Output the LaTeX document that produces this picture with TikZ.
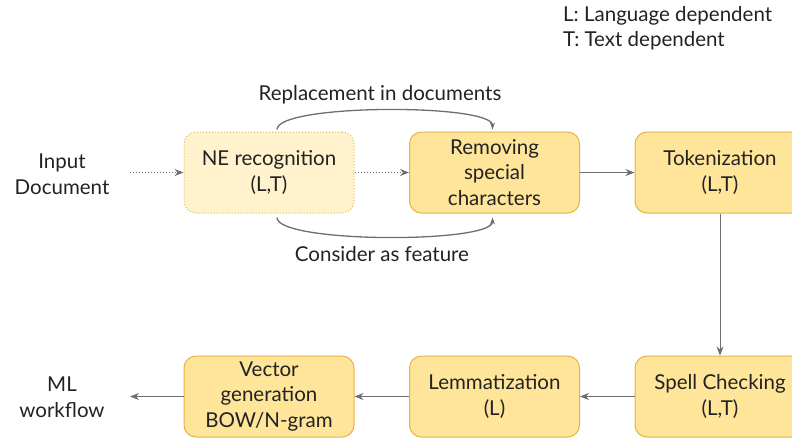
\documentclass[tikz,border=0pt]{standalone}
\usepackage{fontspec}
\setmainfont{Lato}
\usepackage{xcolor}
\usetikzlibrary{arrows.meta,positioning}
\definecolor{boxfill}{HTML}{FFE599}
\definecolor{boxline}{HTML}{E8B04E}
\definecolor{nefill}{HTML}{FFF2CC}
\definecolor{arrowgray}{HTML}{6E6E6E}
\definecolor{textgray}{HTML}{222222}
\tikzset{
  stepbox/.style={draw=boxline, fill=boxfill, rounded corners=12pt, line width=1pt,
    minimum width=170pt, minimum height=81pt, align=center, text=textgray, inner sep=0pt},
  nebox/.style={stepbox, fill=nefill, dotted},
  flow/.style={draw=arrowgray, line width=1pt, -{Stealth[length=9pt,width=7pt]}},
  loop/.style={draw=arrowgray, line width=1.3pt, -{Stealth[length=7pt,width=5pt]}},
  lbl/.style={align=center, text=textgray, inner sep=0pt}
}
\begin{document}
\begin{tikzpicture}[x=1pt, y=-1pt, font=\fontsize{20.5}{25.5}\selectfont]
  \useasboundingbox (0,0) rectangle (792,437);
  \clip (0,0) rectangle (792,437);
  % legend
  \node[lbl, align=left, anchor=west] (legend) at (563,28) {L: Language dependent\\T: Text dependent};
  % first row
  \node[lbl] (input) at (62,174) {Input\\Document};
  \node[nebox] (ne) at (269,172.5) {NE recognition\\(L,T)};
  \node[stepbox] (rm) at (494.5,172.5) {Removing\\special\\characters};
  \node[stepbox] (tok) at (720,172.5) {Tokenization\\(L,T)};
  % second row
  \node[stepbox] (spell) at (720,396.5) {Spell Checking\\(L,T)};
  \node[stepbox] (lem) at (494.5,396.5) {Lemmatization\\(L)};
  \node[stepbox] (vec) at (269,396.5) {Vector\\generation\\BOW/N-gram};
  \node[lbl] (ml) at (62,397) {ML\\workflow};
  % connectors
  \coordinate (inend) at (130,172.5);
  \coordinate (mlend) at (130,396.5);
  \draw[flow, dotted] (inend) -- (ne.west);
  \draw[flow, dotted] (ne) -- (rm);
  \draw[flow] (rm) -- (tok);
  \draw[flow] (tok.south) -- (spell.north);
  \draw[flow] (spell) -- (lem);
  \draw[flow] (lem) -- (vec);
  \draw[flow] (vec.west) -- (mlend);
  % loops between NE and Removing
  \draw[loop] ([xshift=8pt,yshift=2pt]ne.north) .. controls +(0,-26) and +(0,-26) ..
    ([xshift=-2pt,yshift=2pt]rm.north);
  \node[lbl] (repl) at (380,95) {Replacement in documents};
  \draw[loop] ([xshift=8pt,yshift=-4pt]ne.south) .. controls +(0,26) and +(0,26) ..
    ([xshift=-2pt,yshift=-4pt]rm.south);
  \node[lbl] (feat) at (382,254) {Consider as feature};
\end{tikzpicture}
\end{document}
